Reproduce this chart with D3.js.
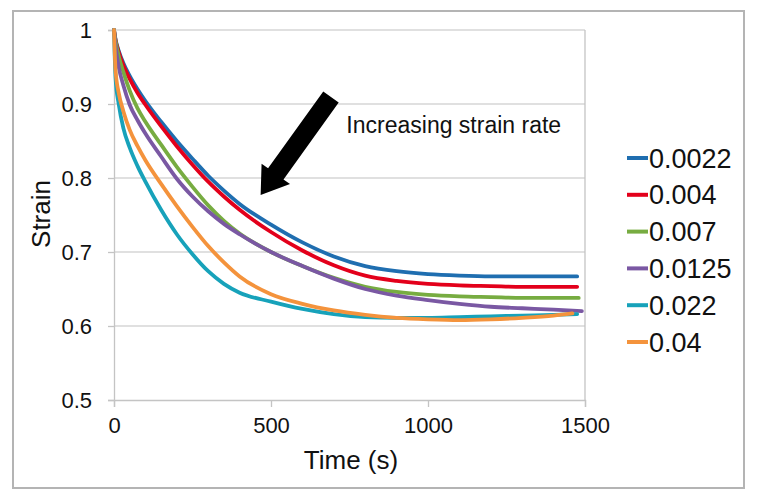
<!DOCTYPE html>
<html>
<head>
<meta charset="utf-8">
<script src="https://cdn.jsdelivr.net/npm/d3@7"></script>
<style>
  html, body { margin: 0; padding: 0; background: #ffffff; }
  svg { display: block; font-family: "Liberation Sans", Arial, sans-serif; }
</style>
</head>
<body>
<svg id="chart" width="759" height="503"></svg>
<script>
// ---------- data ----------
const times = [0,5,15,30,50,75,100,150,200,250,300,350,400,500,600,700,800,900,1000,1100,1200,1300,1400,1475];
const seriesNames = ["0.0022","0.004","0.007","0.0125","0.022","0.04"];
const seriesColors = ["#1f6eb0","#e3001b","#77ac41","#7a58a3","#17a2ba","#f4933c"];
const endTimes = [1475,1475,1480,1490,1475,1460];

const strain0022 = [1,0.987,0.972,0.955,0.938,0.920,0.904,0.876,0.850,0.826,0.803,0.783,0.765,0.737,0.713,0.694,0.681,0.674,0.670,0.668,0.667,0.667,0.667,0.667];
const strain004  = [1,0.986,0.970,0.952,0.934,0.915,0.899,0.870,0.843,0.818,0.795,0.775,0.757,0.727,0.702,0.682,0.668,0.661,0.657,0.655,0.654,0.653,0.653,0.653];
const strain007  = [1,0.985,0.965,0.943,0.918,0.894,0.876,0.845,0.815,0.788,0.763,0.742,0.725,0.700,0.681,0.665,0.653,0.646,0.642,0.640,0.639,0.638,0.638,0.638];
const strain0125 = [1,0.978,0.950,0.925,0.899,0.878,0.860,0.829,0.799,0.775,0.755,0.738,0.724,0.700,0.681,0.664,0.650,0.641,0.635,0.630,0.626,0.624,0.622,0.620];
const strain022  = [1,0.935,0.900,0.867,0.841,0.816,0.795,0.757,0.724,0.697,0.674,0.657,0.645,0.633,0.623,0.616,0.612,0.611,0.611,0.612,0.613,0.614,0.615,0.616];
const strain04   = [1,0.945,0.915,0.890,0.865,0.843,0.824,0.792,0.762,0.734,0.708,0.686,0.667,0.643,0.630,0.621,0.615,0.611,0.609,0.608,0.609,0.611,0.614,0.617];
const seriesValues = [strain0022, strain004, strain007, strain0125, strain022, strain04];

const xTicks = [0, 500, 1000, 1500];
const yTicks = [0.5, 0.6, 0.7, 0.8, 0.9, 1];
const xLabel = "Time (s)";
const yLabel = "Strain";
const annotationText = "Increasing strain rate";
// arrow tail / tip and annotation anchor in data units (time, strain)
const arrowTail = [691, 0.9095];
const arrowTip = [467, 0.777];
const annotationAt = [740, 0.861];

// ---------- layout ----------
const svg = d3.select("#chart");
const x = d3.scaleLinear().domain([0, 1500]).range([114, 585]);
const y = d3.scaleLinear().domain([0.5, 1]).range([400, 30]);

// outer frame
svg.append("rect")
  .attr("x", 13).attr("y", 11).attr("width", 731).attr("height", 477)
  .attr("fill", "#ffffff").attr("stroke", "#b4b4b4").attr("stroke-width", 2);

// gridlines
svg.append("g").selectAll("line").data(yTicks.filter(d => d > 0.5)).join("line")
  .attr("x1", x(0)).attr("x2", x(1500))
  .attr("y1", d => y(d)).attr("y2", d => y(d))
  .attr("stroke", "#d6d6d6").attr("stroke-width", 1.3);

// plot border right
svg.append("line")
  .attr("x1", x(1500)).attr("x2", x(1500)).attr("y1", y(1)).attr("y2", y(0.5))
  .attr("stroke", "#c4c4c4").attr("stroke-width", 1.3);

// axes
const xAxis = d3.axisBottom(x).tickValues(xTicks).tickSize(7).tickPadding(10).tickFormat(d3.format("d"));
const yAxis = d3.axisLeft(y).tickValues(yTicks).tickSize(6).tickPadding(16).tickFormat(d => d === 1 ? "1" : d3.format(".1f")(d));

const gx = svg.append("g").attr("transform", `translate(0,${y(0.5)})`).call(xAxis);
const gy = svg.append("g").attr("transform", `translate(${x(0)},0)`).call(yAxis);
[gx, gy].forEach(g => {
  g.select(".domain").attr("stroke", "#c4c4c4").attr("stroke-width", 1.3);
  g.selectAll(".tick line").attr("stroke", "#c4c4c4").attr("stroke-width", 1.3);
  g.selectAll(".tick text").attr("fill", "#111").attr("font-size", 22)
    .attr("font-family", "'Liberation Sans', Arial, sans-serif");
});

// axis titles
svg.append("text").attr("x", 351).attr("y", 469).attr("text-anchor", "middle")
  .attr("font-size", 26).attr("fill", "#111").text(xLabel);
svg.append("text").attr("transform", "translate(41,214) rotate(-90)")
  .attr("text-anchor", "middle").attr("dominant-baseline", "central")
  .attr("font-size", 26).attr("fill", "#111").text(yLabel);

// series lines
const line = d3.line().x(d => x(d[0])).y(d => y(d[1])).curve(d3.curveMonotoneX);
seriesValues.forEach((vals, i) => {
  const pts = vals.map((v, j) => [j === times.length - 1 ? endTimes[i] : times[j], v]);
  svg.append("path").datum(pts)
    .attr("d", line)
    .attr("fill", "none")
    .attr("stroke", seriesColors[i])
    .attr("stroke-width", 3.8)
    .attr("stroke-linejoin", "round")
    .attr("stroke-linecap", "round");
});

// arrow
(function drawArrow() {
  const tx = x(arrowTail[0]), ty = y(arrowTail[1]);
  const px = x(arrowTip[0]), py = y(arrowTip[1]);
  const dx = px - tx, dy = py - ty, L = Math.hypot(dx, dy);
  const ux = dx / L, uy = dy / L, nx = -uy, ny = ux;
  const shaftW = 19 / 2, headW = 35 / 2, headL = 26;
  const bx = px - ux * headL, by = py - uy * headL;
  const pts = [
    [tx + nx * shaftW, ty + ny * shaftW],
    [bx + nx * shaftW, by + ny * shaftW],
    [bx + nx * headW, by + ny * headW],
    [px, py],
    [bx - nx * headW, by - ny * headW],
    [bx - nx * shaftW, by - ny * shaftW],
    [tx - nx * shaftW, ty - ny * shaftW]
  ];
  svg.append("polygon").attr("points", pts.map(p => p.join(",")).join(" ")).attr("fill", "#000");
})();

svg.append("text").attr("x", x(annotationAt[0])).attr("y", y(annotationAt[1]))
  .attr("font-size", 23).attr("fill", "#111").text(annotationText);

// legend
const legend = svg.append("g");
seriesNames.forEach((name, i) => {
  const cy = 158 + i * 36.8;
  legend.append("line").attr("x1", 627).attr("x2", 648).attr("y1", cy).attr("y2", cy)
    .attr("stroke", seriesColors[i]).attr("stroke-width", 4);
  legend.append("text").attr("x", 649).attr("y", cy + 9.5)
    .attr("font-size", 27).attr("fill", "#111").text(name);
});
</script>
</body>
</html>
